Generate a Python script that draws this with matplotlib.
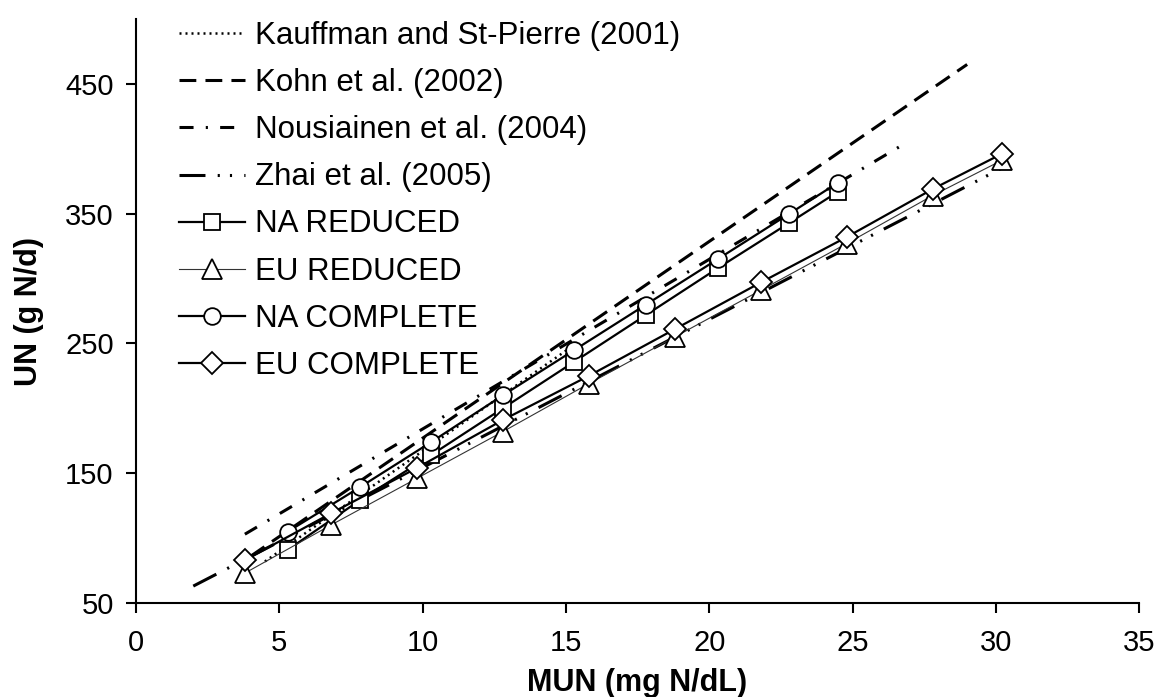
import matplotlib
matplotlib.use("Agg")
import matplotlib.pyplot as plt

plt.rcParams["font.family"] = ["Liberation Sans", "DejaVu Sans"]

# literature equations (start / end points)
kauff_x = [4.5, 15.3]
kauff_y = [82, 249]
kohn_x = [4.0, 29.0]
kohn_y = [86, 465]
nous_x = [3.8, 26.9]
nous_y = [103, 405]
zhai_x = [2.0, 30.2]
zhai_y = [63, 385]

# model predictions
na_x = [5.3, 7.8, 10.3, 12.8, 15.3, 17.8, 20.3, 22.8, 24.5]
na_red_y = [91, 129, 164, 200, 236, 272, 308, 343, 367]
na_com_y = [105, 139, 174, 210, 245, 280, 315, 350, 374]
eu_x = [3.8, 6.8, 9.8, 12.8, 15.8, 18.8, 21.8, 24.8, 27.8, 30.2]
eu_red_y = [73, 110, 146, 182, 219, 255, 291, 327, 364, 391]
eu_com_y = [83, 119, 154, 191, 225, 261, 297, 332, 369, 396]

x_ticks = [0, 5, 10, 15, 20, 25, 30, 35]
y_ticks = [50, 150, 250, 350, 450]

fig = plt.figure(figsize=(11.6, 6.97), dpi=100)
ax = fig.add_axes([0.1172, 0.1349, 0.8648, 0.8378])

LW = 2.2
ax.plot(kauff_x, kauff_y, color="black", lw=1.8, ls=(0, (0.8, 1.6)),
        label="Kauffman and St-Pierre (2001)")
ax.plot(kohn_x, kohn_y, color="black", lw=LW, ls=(0, (5.5, 3.0)),
        label="Kohn et al. (2002)")
ax.plot(nous_x, nous_y, color="black", lw=LW, ls=(0, (4.6, 4.0, 0.7, 4.0)),
        label="Nousiainen et al. (2004)")
ax.plot(zhai_x, zhai_y, color="black", lw=LW,
        ls=(0, (8.5, 4.0, 0.7, 3.3, 0.7, 4.0)),
        label="Zhai et al. (2005)")

mk = dict(markerfacecolor="white", markeredgecolor="black", markeredgewidth=1.3)
ax.plot(na_x, na_red_y, color="black", lw=1.6, marker="s", markersize=12,
        label="NA REDUCED", **mk)
ax.plot(eu_x, eu_red_y, color="#333333", lw=0.8, marker="^", markersize=14,
        label="EU REDUCED", **mk)
ax.plot(na_x, na_com_y, color="black", lw=1.6, marker="o", markersize=12,
        label="NA COMPLETE", **mk)
ax.plot(eu_x, eu_com_y, color="black", lw=1.6, marker="D", markersize=11,
        label="EU COMPLETE", **mk)

ax.set_xlim(0, 35)
ax.set_ylim(50, 500)
ax.set_xticks(x_ticks)
ax.set_yticks(y_ticks)

for side in ["top", "right"]:
    ax.spines[side].set_visible(False)
for side in ["left", "bottom"]:
    ax.spines[side].set_linewidth(1.5)
    ax.spines[side].set_color("black")

ax.tick_params(axis="both", direction="out", length=7, width=1.5,
               labelsize=21, colors="black")
ax.tick_params(axis="x", pad=12)
ax.tick_params(axis="y", pad=9)

ax.set_xlabel("MUN (mg N/dL)", fontsize=22, fontweight="bold")
ax.set_ylabel("UN (g N/d)", fontsize=22, fontweight="bold")
ax.xaxis.set_label_coords(0.5, -0.111)
ax.yaxis.set_label_coords(-0.092, 0.5)

leg = ax.legend(loc="upper left", bbox_to_anchor=(0.043, 0.996), frameon=False,
                fontsize=22.5, handlelength=2.1, handletextpad=0.33,
                labelspacing=0.545, numpoints=1, borderaxespad=0, borderpad=0)

fig.savefig("out.png", dpi=100, facecolor="white")
